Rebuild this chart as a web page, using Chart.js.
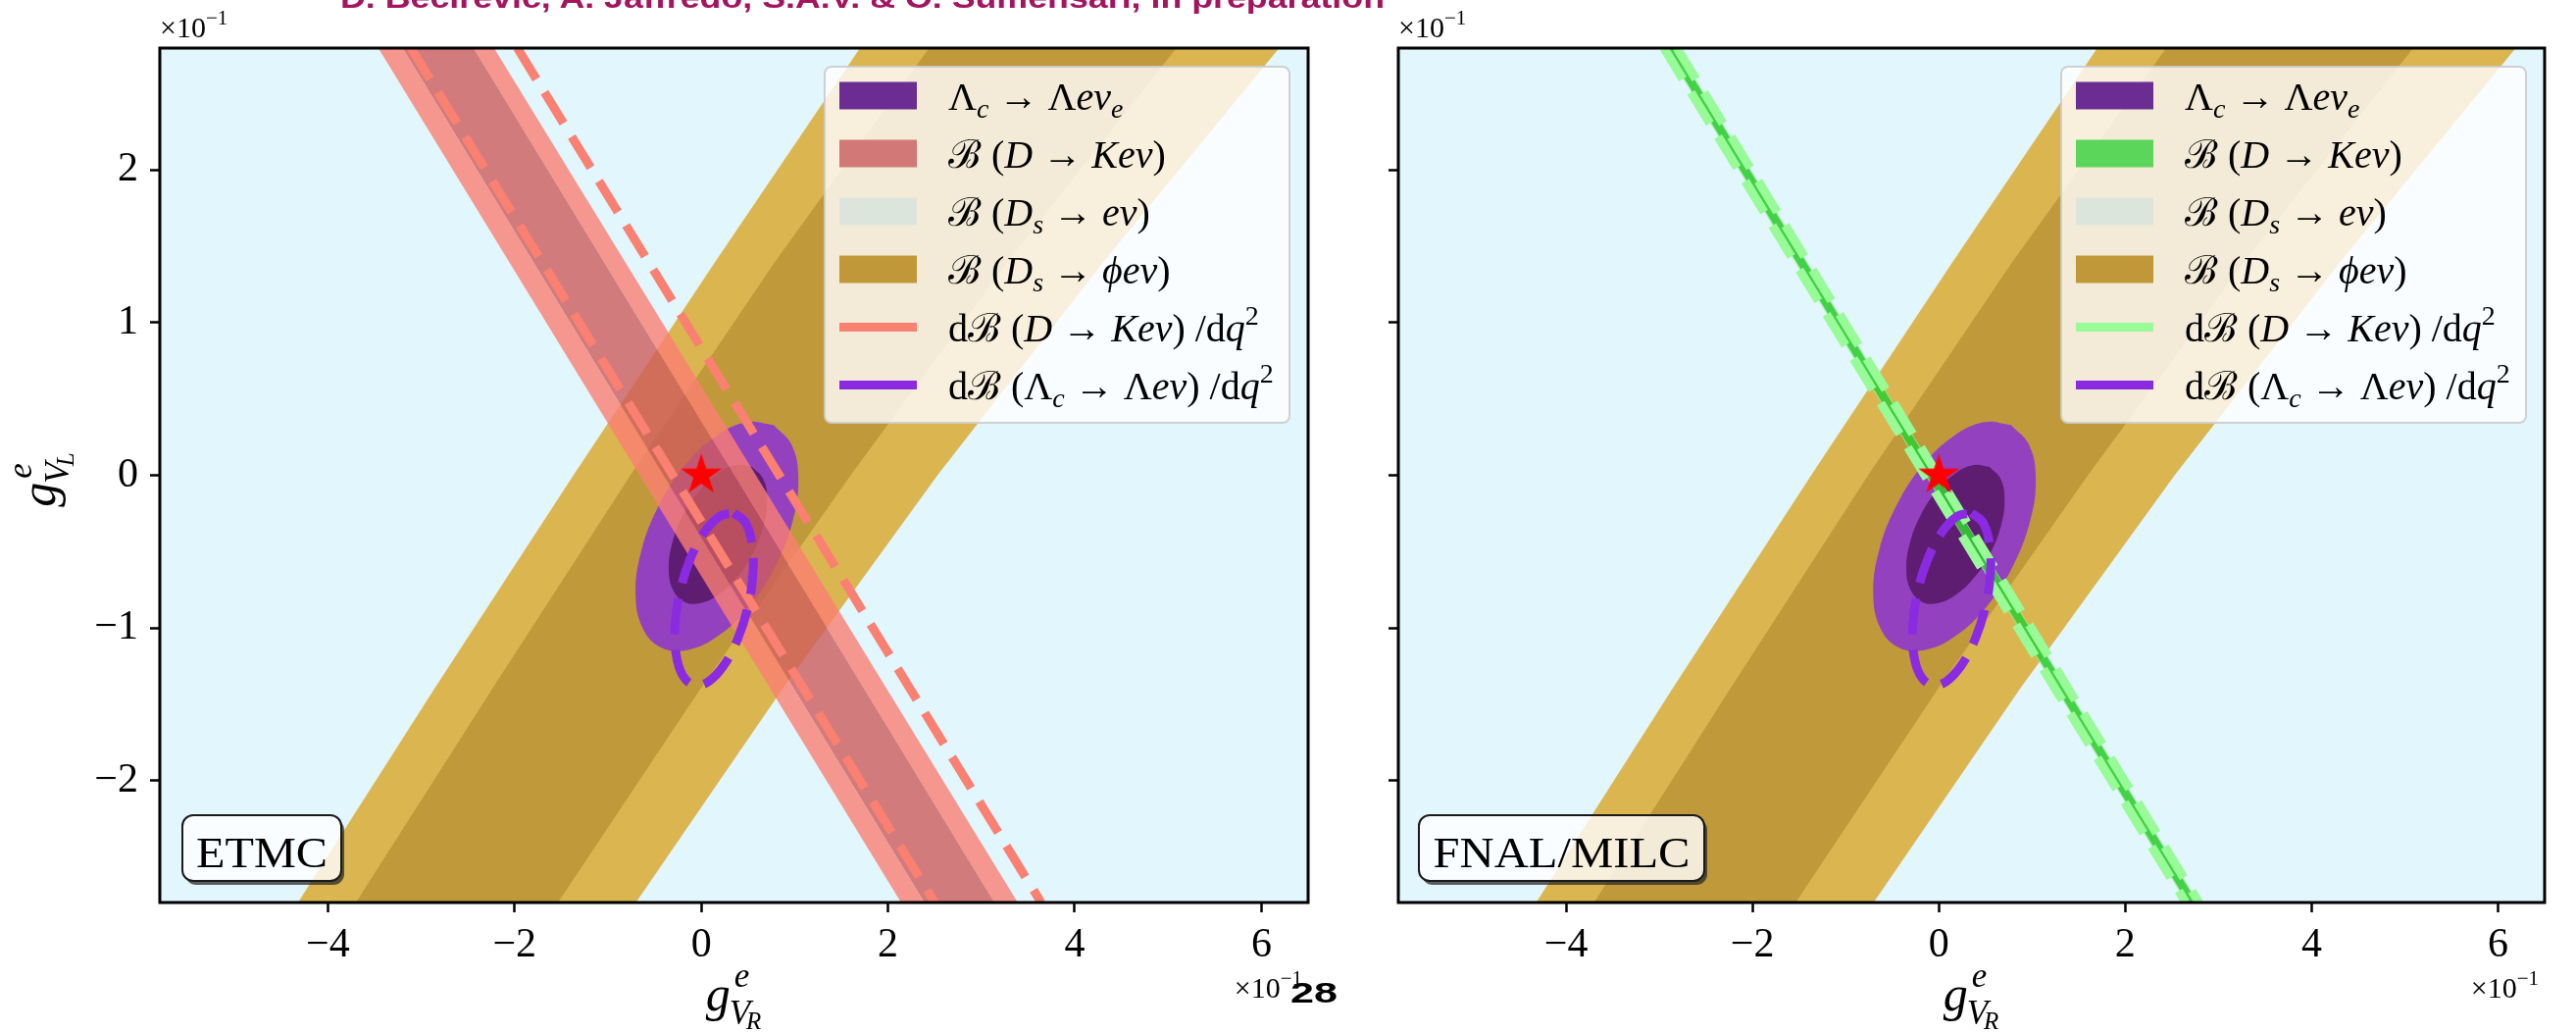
<!DOCTYPE html>
<html>
<head>
<meta charset="utf-8">
<title>Λc → Λeν constraints on gVL, gVR</title>
<script src="https://cdn.jsdelivr.net/npm/chart.js@4.4.1/dist/chart.umd.min.js"></script>
<style>
  html, body { margin: 0; padding: 0; background: #ffffff; }
  #page { position: relative; width: 2627px; height: 1052px; overflow: hidden; background: #ffffff; }
  #cvL { position: absolute; left: 0; top: 0; }
  #cvR { position: absolute; left: 1380px; top: 0; }
  .note { position: absolute; white-space: nowrap; font-weight: bold; transform-origin: 0 0;
          font-family: 'Liberation Sans Narrow', 'Liberation Sans', Arial, sans-serif; line-height: 30px; }
  #credit { left: 347px; top: -17px; font-size: 30px; color: #a3155f; }
  #pageno { left: 1316px; top: 997px; font-size: 30px; color: #000000; }
</style>
</head>
<body>
<div id="page">
  <canvas id="cvL" width="1380" height="1052"></canvas>
  <canvas id="cvR" width="1247" height="1052"></canvas>
  <div id="credit" class="note">D. Becirevic, A. Jaffredo, S.A.V. &amp; O. Sumensari, in preparation</div>
  <div id="pageno" class="note">28</div>
</div>
<script>
// ---------------------------------------------------------------------------
// Data (all coupling values in units of 10^-1)
// ---------------------------------------------------------------------------
const xLimits = [-5.8, 6.5];
const yLimits = [-2.8, 2.8];
const xTickValues = [-4, -2, 0, 2, 4, 6];
const yTickValues = [-2, -1, 0, 1, 2];

// B(D_s -> phi e nu): band edges, x at each height of goldEdgeY
const goldEdgeY       = [-2.8, -1.4, 0, 1.4, 2.8];
const goldOuterLeftX  = [-4.32, -2.86, -1.37, 0.15, 1.70];
const goldInnerLeftX  = [-3.70, -2.24, -0.76, 0.79, 2.44];
const goldInnerRightX = [-1.535, -0.01, 1.60, 3.28, 5.09];
const goldOuterRightX = [-0.70, 0.87, 2.53, 4.31, 6.19];

// B(D -> K e nu) bands and dB/dq^2 lines: x where each straight edge meets
// the top (y = 2.8) and the bottom (y = -2.8) of the window
const edgeY = [2.8, -2.8];
// edges ordered: outer left, inner left, inner right, outer right
const etmcBandTopX    = [-3.46, -3.20, -2.44, -2.22];
const etmcBandBottomX = [ 2.14,  2.39,  3.14,  3.39];
const etmcDashTopX    = [-3.11, -1.97];
const etmcDashBottomX = [ 2.50,  3.64];
const fnalBandTopX    = [-2.946, -2.932, -2.828, -2.814];
const fnalBandBottomX = [ 2.654,  2.668,  2.772,  2.786];
const fnalDashTopX    = [-2.95, -2.81];
const fnalDashBottomX = [ 2.65,  2.79];

// Lambda_c -> Lambda e nu_e: outer and inner contours
const lamOuterX = [0.774, 0.968, 1.040, 0.979, 0.795, 0.516, 0.183, -0.151, -0.438, -0.632, -0.704, -0.643, -0.459, -0.180, 0.153, 0.488];
const lamOuterY = [0.329, 0.199, -0.022, -0.301, -0.594, -0.858, -1.052, -1.146, -1.126, -0.996, -0.775, -0.497, -0.203, 0.061, 0.254, 0.348];
const lamInnerX = [0.546, 0.663, 0.706, 0.669, 0.558, 0.388, 0.187, -0.016, -0.189, -0.306, -0.349, -0.312, -0.201, -0.031, 0.170, 0.373];
const lamInnerY = [0.055, -0.023, -0.157, -0.326, -0.504, -0.664, -0.781, -0.839, -0.827, -0.748, -0.614, -0.445, -0.268, -0.108, 0.010, 0.067];
// dB(Lambda_c -> Lambda e nu)/dq^2 contour
const lamDashX = [0.349, 0.472, 0.543, 0.553, 0.499, 0.390, 0.242, 0.079, -0.076, -0.199, -0.270, -0.280, -0.226, -0.117, 0.031, 0.194];
const lamDashY = [-0.247, -0.309, -0.448, -0.642, -0.862, -1.073, -1.245, -1.351, -1.374, -1.312, -1.173, -0.979, -0.759, -0.547, -0.375, -0.270];

// Standard Model point
const smPointX = [0];
const smPointY = [0];

// ---------------------------------------------------------------------------
// Styling
// ---------------------------------------------------------------------------
const SERIF = "'Liberation Serif', 'DejaVu Serif', serif";
const colors = {
  sky: '#e2f6fd',
  goldLight: '#dbb650', goldDark: '#c09a3a',
  lamOuter: '#9441c0', lamInner: '#5f1d72', lamLine: '#8a2be2',
  redOuter: 'rgba(250,128,114,0.8)', redInner: 'rgba(205,92,92,0.8)', redLine: '#fa8072',
  greenOuter: 'rgba(144,238,144,0.8)', greenInner: 'rgba(50,205,50,0.9)', greenLine: '#98fb98',
  star: '#ff0000'
};

const legendLabels = [
  [['Λ'], ['c', 'i_'], [' → Λ'], ['eν', 'i'], ['e', 'i_']],
  [['ℬ ('], ['D', 'i'], [' → '], ['Keν', 'i'], [')']],
  [['ℬ ('], ['D', 'i'], ['s', 'i_'], [' → '], ['eν', 'i'], [')']],
  [['ℬ ('], ['D', 'i'], ['s', 'i_'], [' → '], ['ϕeν', 'i'], [')']],
  [['dℬ ('], ['D', 'i'], [' → '], ['Keν', 'i'], [') /d'], ['q', 'i'], ['2', '^']],
  [['dℬ (Λ'], ['c', 'i_'], [' → Λ'], ['eν', 'i'], [') /d'], ['q', 'i'], ['2', '^']]
];
const legendKinds = ['patch', 'patch', 'patch', 'patch', 'line', 'line'];
const etmcLegendColors = ['#6b2d91', '#d27876', '#dce5dc', '#c0983a', colors.redLine, colors.lamLine];
const fnalLegendColors = ['#6b2d91', '#5bd65b', '#dce5dc', '#c0983a', colors.greenLine, colors.lamLine];

// ---------------------------------------------------------------------------
// Helpers
// ---------------------------------------------------------------------------
function pts(xs, ys) { return xs.map((x, i) => ({ x: x, y: ys[i] })); }
function closed(xs, ys) { const p = pts(xs, ys); return p.concat([p[0]]); }
// polygon between two edges given at the same heights
function bandBetween(leftX, rightX, ys) {
  const a = pts(leftX, ys);
  const b = pts(rightX, ys).reverse();
  return a.concat(b, [a[0]]);
}
function area(data, color, order, tension) {
  return { data: data, backgroundColor: color, borderColor: 'rgba(0,0,0,0)', borderWidth: 0,
           fill: 'shape', pointRadius: 0, tension: tension || 0, order: order, clip: 0 };
}
function dashed(data, color, order, tension) {
  return { data: data, borderColor: color, borderWidth: 9, borderDash: [37, 16], borderCapStyle: 'butt',
           fill: false, pointRadius: 0, tension: tension || 0, order: order, clip: 0 };
}
function minusFmt(v) { return v < 0 ? '\u2212' + Math.abs(v) : String(v); }

function makeStar(r) {
  const c = document.createElement('canvas');
  const size = Math.ceil(r * 2 + 4);
  c.width = size; c.height = size;
  const g = c.getContext('2d');
  const cx = size / 2, cy = size / 2, ri = r * 0.381966;
  g.beginPath();
  for (let k = 0; k < 10; k++) {
    const rad = k % 2 === 0 ? r : ri;
    const ang = -Math.PI / 2 + k * Math.PI / 5;
    const px = cx + rad * Math.cos(ang), py = cy + rad * Math.sin(ang);
    if (k === 0) g.moveTo(px, py); else g.lineTo(px, py);
  }
  g.closePath();
  g.fillStyle = colors.star;
  g.fill();
  return c;
}
const starImage = makeStar(22);

// text runs: [text, flags] where flags may hold i (italic), _ (subscript), ^ (superscript)
function runs(ctx, parts, size, x, y, draw) {
  let cx = x;
  for (const p of parts) {
    const t = p[0], f = p[1] || '';
    const small = f.includes('_') || f.includes('^');
    const s = small ? Math.round(size * 0.7) : size;
    const dy = f.includes('_') ? size * 0.2 : (f.includes('^') ? -size * 0.42 : 0);
    ctx.font = (f.includes('i') ? 'italic ' : '') + s + 'px ' + SERIF;
    if (draw) ctx.fillText(t, cx, y + dy);
    cx += ctx.measureText(t).width;
  }
  return cx - x;
}

function roundRectPath(ctx, x, y, w, h, r) {
  ctx.beginPath();
  ctx.moveTo(x + r, y);
  ctx.lineTo(x + w - r, y);
  ctx.arcTo(x + w, y, x + w, y + r, r);
  ctx.lineTo(x + w, y + h - r);
  ctx.arcTo(x + w, y + h, x + w - r, y + h, r);
  ctx.lineTo(x + r, y + h);
  ctx.arcTo(x, y + h, x, y + h - r, r);
  ctx.lineTo(x, y + r);
  ctx.arcTo(x, y, x + r, y, r);
  ctx.closePath();
}

// g^e_{V_sub} coupling label, centred at cx
function drawCoupling(ctx, cx, baseline, sub) {
  const S = 50, s1 = 35, s2 = 25;
  ctx.font = 'italic ' + S + 'px ' + SERIF; const wg = ctx.measureText('g').width;
  ctx.font = 'italic ' + s1 + 'px ' + SERIF;
  const we = ctx.measureText('e').width, wv = ctx.measureText('V').width;
  ctx.font = 'italic ' + s2 + 'px ' + SERIF; const wr = ctx.measureText(sub).width;
  const total = wg + Math.max(we + 4, wv - 4 + wr);
  const x0 = cx - total / 2;
  ctx.fillStyle = '#000'; ctx.textAlign = 'left'; ctx.textBaseline = 'alphabetic';
  ctx.font = 'italic ' + S + 'px ' + SERIF; ctx.fillText('g', x0, baseline);
  ctx.font = 'italic ' + s1 + 'px ' + SERIF;
  ctx.fillText('e', x0 + wg + 4, baseline - 24);
  ctx.fillText('V', x0 + wg - 1, baseline + 14);
  ctx.font = 'italic ' + s2 + 'px ' + SERIF;
  ctx.fillText(sub, x0 + wg - 5 + wv, baseline + 19);
}

// "x10^-1" scale factor text
function drawScaleNote(ctx, x, baseline, alignRight) {
  const parts = [['×10'], ['\u22121', '^']];
  ctx.fillStyle = '#000'; ctx.textAlign = 'left'; ctx.textBaseline = 'alphabetic';
  const w = runs(ctx, parts, 30, 0, 0, false);
  runs(ctx, parts, 30, alignRight ? x - w : x, baseline, true);
}

function drawLegend(ctx, a, legendColors) {
  const w = 474, h = 363, x0 = a.right - 19 - w, y0 = a.top + 19;
  ctx.save();
  roundRectPath(ctx, x0, y0, w, h, 7);
  ctx.fillStyle = 'rgba(255,255,255,0.8)';
  ctx.fill();
  ctx.lineWidth = 2;
  ctx.strokeStyle = 'rgba(204,204,204,0.9)';
  ctx.stroke();
  legendLabels.forEach((label, i) => {
    const cy = y0 + 29.5 + 59 * i;
    ctx.fillStyle = legendColors[i];
    if (legendKinds[i] === 'patch') ctx.fillRect(x0 + 15, cy - 14, 79, 28);
    else ctx.fillRect(x0 + 15, cy - 4.5, 79, 9);
    ctx.fillStyle = '#000'; ctx.textAlign = 'left'; ctx.textBaseline = 'alphabetic';
    runs(ctx, label, 40, x0 + 126, cy + 14, true);
  });
  ctx.restore();
}

function drawTag(ctx, a, text, offsetX, width, textWidth) {
  const h = 67, x = a.left + offsetX, y = a.bottom - 22 - h, r = 11;
  ctx.save();
  // drop shadow outside the box only
  ctx.save();
  ctx.beginPath();
  ctx.rect(0, 0, ctx.canvas.width, ctx.canvas.height);
  ctx.moveTo(x + r, y);
  ctx.arcTo(x, y, x, y + r, r);
  ctx.lineTo(x, y + h - r);
  ctx.arcTo(x, y + h, x + r, y + h, r);
  ctx.lineTo(x + width - r, y + h);
  ctx.arcTo(x + width, y + h, x + width, y + h - r, r);
  ctx.lineTo(x + width, y + r);
  ctx.arcTo(x + width, y, x + width - r, y, r);
  ctx.closePath();
  ctx.clip('evenodd');
  roundRectPath(ctx, x + 3, y + 4, width, h, r);
  ctx.fillStyle = 'rgba(40,40,40,0.75)';
  ctx.fill();
  ctx.restore();
  roundRectPath(ctx, x, y, width, h, r);
  ctx.fillStyle = 'rgba(255,255,255,0.8)';
  ctx.fill();
  ctx.lineWidth = 2;
  ctx.strokeStyle = '#1a1a1a';
  ctx.stroke();
  ctx.fillStyle = '#000';
  ctx.font = '44px ' + SERIF;
  ctx.textAlign = 'center'; ctx.textBaseline = 'alphabetic';
  const natural = ctx.measureText(text).width;
  ctx.translate(x + width / 2, y + h - 14);
  ctx.scale(textWidth / natural, 1);
  ctx.fillText(text, 0, 0);
  ctx.restore();
}

// ---------------------------------------------------------------------------
// Charts
// ---------------------------------------------------------------------------
function buildDatasets(p) {
  const ds = [];
  ds.push(area(bandBetween(goldOuterLeftX, goldOuterRightX, goldEdgeY), colors.goldLight, 90));
  ds.push(area(bandBetween(goldInnerLeftX, goldInnerRightX, goldEdgeY), colors.goldDark, 80));
  ds.push(area(closed(lamOuterX, lamOuterY), colors.lamOuter, 70, 0.4));
  ds.push(area(closed(lamInnerX, lamInnerY), colors.lamInner, 60, 0.4));
  const T = p.bandTopX, B = p.bandBottomX;
  ds.push(area(bandBetween([T[0], B[0]], [T[1], B[1]], edgeY), p.outer, 50));
  ds.push(area(bandBetween([T[1], B[1]], [T[2], B[2]], edgeY), p.inner, 50));
  ds.push(area(bandBetween([T[2], B[2]], [T[3], B[3]], edgeY), p.outer, 50));
  ds.push(dashed(pts([p.dashTopX[0], p.dashBottomX[0]], edgeY), p.line, 20));
  ds.push(dashed(pts([p.dashTopX[1], p.dashBottomX[1]], edgeY), p.line, 20));
  ds.push(dashed(closed(lamDashX, lamDashY), colors.lamLine, 10, 0.4));
  ds.push({ data: pts(smPointX, smPointY), showLine: false, pointStyle: starImage, pointRadius: 10,
            order: 0, clip: 0 });
  return ds;
}

function buildChart(canvasId, p) {
  const decor = {
    id: 'decor_' + canvasId,
    beforeDatasetsDraw(chart) {
      const a = chart.chartArea, ctx = chart.ctx;
      ctx.save();
      ctx.fillStyle = colors.sky;
      ctx.fillRect(a.left, a.top, a.right - a.left, a.bottom - a.top);
      ctx.restore();
    },
    afterDatasetsDraw(chart) {
      const a = chart.chartArea, ctx = chart.ctx;
      ctx.save();
      ctx.lineWidth = 3;
      ctx.strokeStyle = '#000';
      ctx.strokeRect(a.left, a.top, a.right - a.left, a.bottom - a.top);
      ctx.restore();
    },
    afterDraw(chart) {
      const a = chart.chartArea, ctx = chart.ctx;
      ctx.save();
      drawLegend(ctx, a, p.legendColors);
      drawTag(ctx, a, p.tag, p.tagOffset, p.tagWidth, p.tagTextWidth);
      drawCoupling(ctx, (a.left + a.right) / 2, 1030, 'R');
      if (p.showYLabels) {
        ctx.save();
        ctx.translate(46, (a.top + a.bottom) / 2 + 4);
        ctx.rotate(-Math.PI / 2);
        drawCoupling(ctx, 0, 10, 'L');
        ctx.restore();
      }
      drawScaleNote(ctx, a.left, 38, false);
      drawScaleNote(ctx, a.right - 6, 1017, true);
      ctx.restore();
    }
  };

  return new Chart(document.getElementById(canvasId), {
    type: 'line',
    data: { datasets: buildDatasets(p) },
    options: {
      responsive: false,
      devicePixelRatio: 1,
      animation: false,
      events: [],
      layout: { padding: { top: 49, left: 0, right: p.padRight, bottom: 0 } },
      plugins: { legend: { display: false }, tooltip: { enabled: false } },
      elements: { point: { radius: 0 }, line: { borderJoinStyle: 'miter' } },
      scales: {
        x: {
          type: 'linear', min: xLimits[0], max: xLimits[1],
          afterBuildTicks: (ax) => { ax.ticks = xTickValues.map(v => ({ value: v })); },
          afterFit: (ax) => { ax.height = 132; },
          ticks: { autoSkip: false, maxRotation: 0, padding: 9, color: '#000',
                   font: { family: SERIF, size: 42 }, callback: (v) => minusFmt(v) },
          grid: { drawOnChartArea: false, drawTicks: true, tickLength: 10, tickWidth: 2.5, tickColor: '#000' },
          border: { display: false }
        },
        y: {
          type: 'linear', min: yLimits[0], max: yLimits[1],
          afterBuildTicks: (ax) => { ax.ticks = yTickValues.map(v => ({ value: v })); },
          afterFit: (ax) => { ax.width = p.yAxisWidth; },
          ticks: { display: p.showYLabels, padding: 12, color: '#000',
                   font: { family: SERIF, size: 42 }, callback: (v) => minusFmt(v) },
          grid: { drawOnChartArea: false, drawTicks: true, tickLength: 10, tickWidth: 2.5, tickColor: '#000' },
          border: { display: false }
        }
      }
    },
    plugins: [decor]
  });
}

buildChart('cvL', {
  bandTopX: etmcBandTopX, bandBottomX: etmcBandBottomX,
  dashTopX: etmcDashTopX, dashBottomX: etmcDashBottomX,
  outer: colors.redOuter, inner: colors.redInner, line: colors.redLine,
  legendColors: etmcLegendColors, tag: 'ETMC', tagOffset: 23, tagWidth: 162, tagTextWidth: 134,
  showYLabels: true, yAxisWidth: 163, padRight: 46
});

buildChart('cvR', {
  bandTopX: fnalBandTopX, bandBottomX: fnalBandBottomX,
  dashTopX: fnalDashTopX, dashBottomX: fnalDashBottomX,
  outer: colors.greenOuter, inner: colors.greenInner, line: colors.greenLine,
  legendColors: fnalLegendColors, tag: 'FNAL/MILC', tagOffset: 21, tagWidth: 291, tagTextWidth: 262,
  showYLabels: false, yAxisWidth: 46, padRight: 32
});

// fit the header and page number to their widths
(function () {
  const credit = document.getElementById('credit');
  const w = credit.getBoundingClientRect().width;
  if (w > 0) credit.style.transform = 'scaleX(' + (1065 / w) + ')';
  const pageno = document.getElementById('pageno');
  const w2 = pageno.getBoundingClientRect().width;
  if (w2 > 0) pageno.style.transform = 'scaleX(' + (48 / w2) + ')';
})();
</script>
</body>
</html>
